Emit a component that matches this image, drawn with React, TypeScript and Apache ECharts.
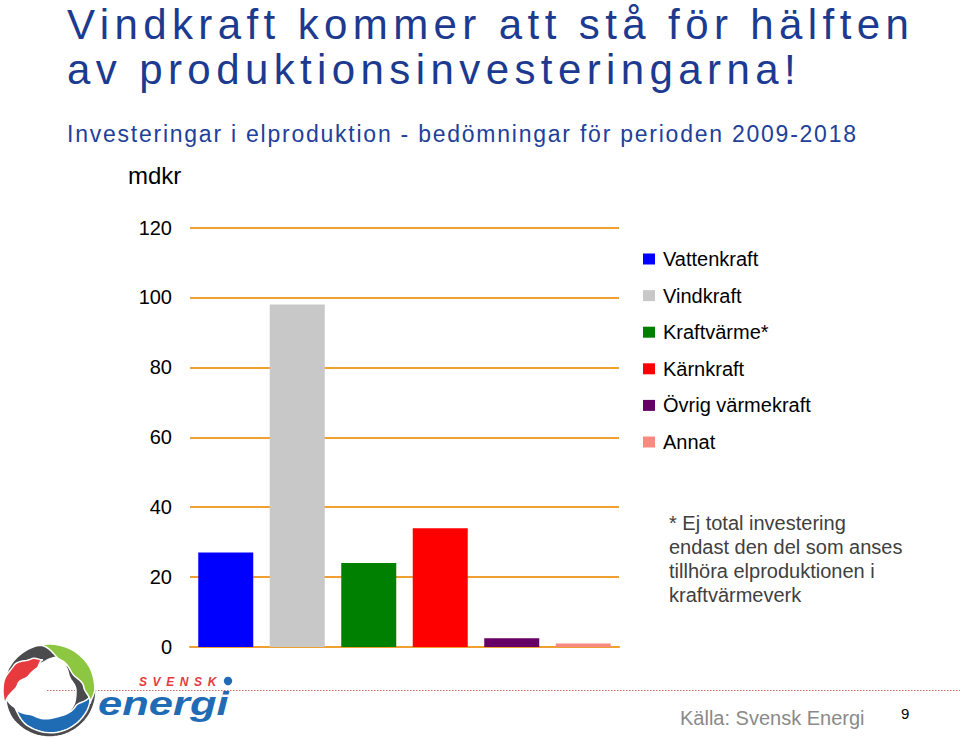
import React, { useEffect, useRef } from "react";
import * as echarts from "echarts";

const categories = ["Vattenkraft", "Vindkraft", "Kraftvärme*", "Kärnkraft", "Övrig värmekraft", "Annat"];
const values = [27, 98, 24, 34, 2.5, 1];
const barColors = ["#0000FF", "#C8C8C8", "#008000", "#FF0000", "#660066", "#F88A80"];
const yTicks = { min: 0, max: 120, interval: 20 };

const titleLines = ["Vindkraft kommer att stå för hälften", "av produktionsinvesteringarna!"];
const subtitle = "Investeringar i elproduktion - bedömningar för perioden 2009-2018";
const unitLabel = "mdkr";
const footnoteLines = [
  "* Ej total investering",
  "endast den del som anses",
  "tillhöra elproduktionen i",
  "kraftvärmeverk",
];
const sourceText = "Källa: Svensk Energi";
const pageNumber = "9";

const FONT = '"Liberation Sans", Arial, Helvetica, sans-serif';

// decorative logo blade: control points [angleDeg, outerRadius, thickness]
function blade(cx: number, cy: number, ctrl: number[][]): number[][] {
  const outer: number[][] = [];
  const inner: number[][] = [];
  for (let k = 0; k < ctrl.length - 1; k++) {
    const [a0, r0, w0] = ctrl[k];
    const [a1, r1, w1] = ctrl[k + 1];
    const steps = 10;
    for (let s = 0; s < steps; s++) {
      const t = s / steps;
      const e = (1 - Math.cos(Math.PI * t)) / 2;
      const a = ((a0 + (a1 - a0) * t) * Math.PI) / 180;
      const r = r0 + (r1 - r0) * e;
      const w = w0 + (w1 - w0) * e;
      outer.push([cx + r * Math.cos(a), cy + r * Math.sin(a)]);
      inner.push([cx + (r - w) * Math.cos(a), cy + (r - w) * Math.sin(a)]);
    }
  }
  const [aL, rL, wL] = ctrl[ctrl.length - 1];
  const aa = (aL * Math.PI) / 180;
  outer.push([cx + rL * Math.cos(aa), cy + rL * Math.sin(aa)]);
  inner.push([cx + (rL - wL) * Math.cos(aa), cy + (rL - wL) * Math.sin(aa)]);
  return outer.concat(inner.reverse());
}

export default function App() {
  const ref = useRef<HTMLDivElement>(null);

  useEffect(() => {
    if (!ref.current) return;
    const chart = echarts.init(ref.current, undefined, { renderer: "svg" });

    const series = categories.map((name, i) => ({
      name,
      type: "bar",
      stack: "all",
      barWidth: 55,
      itemStyle: { color: barColors[i] },
      data: values.map((v, j) => (j === i ? v : "-")),
    }));

    const cx = 49.5, cy = 690.5, R = 46.5;
    const blades = [
      { c: "#4b4b4d", k: [[295, 30, 0], [330, 34, 10], [360, R, 20], [400, R, 18], [450, R, 13], [500, R, 11], [535, R - 2, 0]] },
      { c: "#1f6cb5", k: [[5, R - 5, 0], [30, R - 4, 12], [75, R - 4, 15], [120, R - 5, 12], [155, R - 8, 0]] },
      { c: "#4b4b4d", k: [[175, R - 3, 0], [210, R, 12], [250, R, 18], [290, R, 12], [312, R - 1, 0]] },
      { c: "#e63a3f", k: [[160, R, 0], [190, R, 14], [215, R - 3, 18], [240, R - 10, 11], [258, R - 15, 0]] },
      { c: "#8dc641", k: [[255, R, 0], [290, R, 14], [325, R, 18], [355, R - 1, 11], [378, R - 4, 0]] },
    ];

    const graphic: any[] = [
      {
        type: "line",
        shape: { x1: 47, y1: 690.5, x2: 960, y2: 690.5 },
        style: { stroke: "#d46a6a", lineWidth: 1.2, lineDash: [1.5, 1.5] },
        z: 1,
      },
      ...titleLines.map((t, i) => ({
        type: "text",
        x: 67,
        y: (i === 0 ? 24 : 69.5),
        style: {
          text: t, fill: "#1c3a8f", fontSize: 42, fontFamily: FONT,
          textAlign: "left", textVerticalAlign: "middle", verticalAlign: "middle",
        },
      })),
      {
        type: "text",
        x: 67,
        y: 134,
        style: {
          text: subtitle, fill: "#21409a", fontSize: 23, fontFamily: FONT,
          textAlign: "left", textVerticalAlign: "middle", verticalAlign: "middle",
        },
      },
      {
        type: "text",
        x: 128,
        y: 175,
        style: {
          text: unitLabel, fill: "#000", fontSize: 24, fontFamily: FONT,
          textAlign: "left", textVerticalAlign: "middle", verticalAlign: "middle",
        },
      },
      ...footnoteLines.map((t, i) => ({
        type: "text",
        x: 669,
        y: 523 + i * 24,
        style: {
          text: t, fill: "#404040", fontSize: 20, fontFamily: FONT,
          textAlign: "left", textVerticalAlign: "middle", verticalAlign: "middle",
        },
      })),
      {
        type: "text",
        x: 680,
        y: 718,
        style: {
          text: sourceText, fill: "#8a8a8a", fontSize: 20, fontFamily: FONT,
          textAlign: "left", textVerticalAlign: "middle", verticalAlign: "middle",
        },
      },
      {
        type: "text",
        x: 901,
        y: 713,
        style: {
          text: pageNumber, fill: "#000", fontSize: 15, fontFamily: FONT,
          textAlign: "left", textVerticalAlign: "middle", verticalAlign: "middle",
        },
      },
      ...blades.map((b) => ({
        type: "polygon",
        shape: { points: blade(cx, cy, b.k) },
        style: { fill: b.c, stroke: "#ffffff", lineWidth: 1.5 },
        z: 2,
      })),
      {
        type: "text",
        x: 139,
        y: 682,
        z: 3,
        style: {
          text: "SVENSK", fill: "#e63a3f", fontSize: 12, fontWeight: "bold", fontStyle: "italic",
          fontFamily: FONT, textAlign: "left", textVerticalAlign: "middle", verticalAlign: "middle",
        },
      },
      {
        type: "circle",
        shape: { cx: 228, cy: 681, r: 4.2 },
        style: { fill: "#1f6cb5" },
        z: 3,
      },
      {
        type: "text",
        x: 98,
        y: 703,
        scaleX: 1.28,
        z: 3,
        style: {
          text: "energi", fill: "#1f6cb5", fontSize: 34, fontWeight: "bold", fontStyle: "italic",
          fontFamily: FONT, textAlign: "left", textVerticalAlign: "middle", verticalAlign: "middle",
        },
      },
    ];

    chart.setOption({
      animation: false,
      backgroundColor: "#ffffff",
      textStyle: { fontFamily: FONT },
      grid: { left: 190, right: 341, top: 227.5, bottom: 91, containLabel: false },
      legend: {
        orient: "vertical",
        left: 638,
        top: 244,
        itemWidth: 12,
        itemHeight: 11,
        itemGap: 16.6,
        icon: "rect",
        data: categories,
        textStyle: { fontSize: 20, color: "#000", fontFamily: FONT, lineHeight: 20, padding: [0, 0, 0, 3] },
      },
      xAxis: {
        type: "category",
        data: categories,
        axisLine: { show: true, lineStyle: { color: "#F0A030", width: 2 } },
        axisTick: { show: false },
        axisLabel: { show: false },
      },
      yAxis: {
        type: "value",
        min: yTicks.min,
        max: yTicks.max,
        interval: yTicks.interval,
        axisLine: { show: false },
        axisTick: { show: false },
        axisLabel: { fontSize: 20, color: "#000", margin: 18, fontFamily: FONT },
        splitLine: { show: true, lineStyle: { color: "#F0A030", width: 2 } },
      },
      series,
      graphic,
    });

    return () => chart.dispose();
  }, []);

  return (
    <>
      <style>{`
        #chartbox svg text[style*="42px"] { letter-spacing: 5.4px; }
        #chartbox svg text[style*="23px"] { letter-spacing: 1.76px; }
        #chartbox svg text[style*="12px"] { letter-spacing: 5.6px; }
      `}</style>
      <div
        id="chartbox"
        ref={ref}
        style={{ position: "absolute", left: 0, top: 0, width: 960, height: 738 }}
      />
    </>
  );
}
